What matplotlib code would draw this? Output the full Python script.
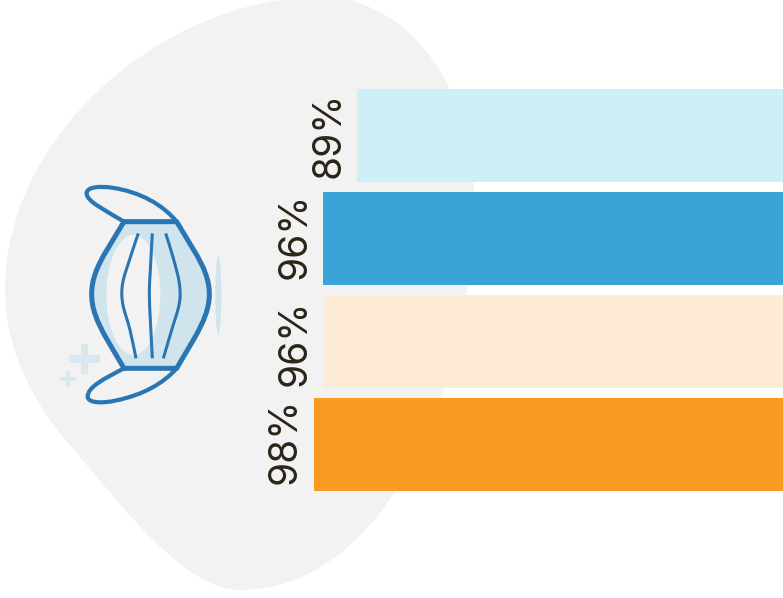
"""
Barre orizzontali con etichette ruotate, macchia grigia e icona della mascherina.
"""
import numpy as np
import matplotlib.pyplot as plt
from matplotlib.patches import Ellipse, PathPatch, Rectangle
from matplotlib.path import Path
from matplotlib.transforms import Affine2D

plt.rcParams['font.family'] = ['Inter', 'DejaVu Sans']

# Dati
values = [89, 96, 96, 98]
labels = ['89%', '96%', '96%', '98%']
colors = ['#cfeff6', '#3ba4d6', '#fdebd6', '#fb9a20']

W, H = 783, 598


def smooth_path(pts):
    # Catmull-Rom aperta convertita in bezier
    pts = np.array(pts, dtype=float)
    n = len(pts)
    verts = [pts[0]]
    codes = [Path.MOVETO]
    for i in range(n - 1):
        p0, p1, p2, p3 = pts[max(i - 1, 0)], pts[i], pts[i + 1], pts[min(i + 2, n - 1)]
        verts += [p1 + (p2 - p0) / 6, p2 - (p3 - p1) / 6, p2]
        codes += [Path.CURVE4] * 3
    return Path(verts, codes)


fig = plt.figure(figsize=(W / 100, H / 100), dpi=100, facecolor='white')

# Sfondo decorativo in coordinate pixel
deco = fig.add_axes([0, 0, 1, 1], zorder=1)
deco.set_xlim(0, W)
deco.set_ylim(H, 0)
deco.axis('off')

blob = Path([(5, 290), (5, 130), (170, -3), (320, -3),
             (410, -3), (474, 90), (474, 200),
             (474, 385), (385, 590), (240, 590),
             (185, 590), (125, 510), (70, 445),
             (30, 400), (5, 345), (5, 290)],
            [Path.MOVETO] + [Path.CURVE4] * 15)
deco.add_patch(PathPatch(blob, fc='#f2f2f2', ec='none'))

# Icona: coordinate riferite a un riquadro ingrandito 3x
icon = Affine2D().scale(1 / 3).translate(50, 170) + deco.transData
BLUE = '#2a76b2'
PALE = '#d0e4ee'
PLUS = '#d9e8ef'

body_path = Path([(222, 155), (380, 155), (430, 238), (462, 290), (478, 330), (478, 372),
                  (478, 415), (462, 455), (430, 510), (380, 595), (222, 595), (172, 510),
                  (140, 455), (125, 415), (125, 372), (125, 330), (140, 290), (172, 238), (222, 155)],
                 [Path.MOVETO, Path.LINETO, Path.LINETO, Path.CURVE4, Path.CURVE4, Path.CURVE4,
                  Path.CURVE4, Path.CURVE4, Path.CURVE4, Path.LINETO, Path.LINETO, Path.LINETO,
                  Path.CURVE4, Path.CURVE4, Path.CURVE4, Path.CURVE4, Path.CURVE4, Path.CURVE4,
                  Path.CLOSEPOLY])
deco.add_patch(PathPatch(body_path, fc=PALE, ec='none', transform=icon))
deco.add_patch(Ellipse((250, 375), 162, 360, fc='#f2f2f2', ec='none', transform=icon))
deco.add_patch(PathPatch(body_path, fc='none', ec=BLUE, lw=3.6, joinstyle='round', transform=icon))

ear_top = Path([(222, 155), (165, 120), (110, 95), (110, 70),
                (110, 50), (150, 48), (185, 53),
                (270, 65), (340, 105), (380, 155)],
               [Path.MOVETO] + [Path.CURVE4] * 9)
ear_bottom = Path([(222, 595), (165, 625), (113, 650), (113, 680),
                   (113, 700), (160, 700), (195, 692),
                   (280, 675), (340, 640), (380, 595)],
                  [Path.MOVETO] + [Path.CURVE4] * 9)
for ear in (ear_top, ear_bottom):
    deco.add_patch(PathPatch(ear, fc='none', ec=BLUE, lw=3.0, transform=icon))

pleats = [
    [(265, 190), (240, 265), (218, 340), (218, 400), (240, 480), (258, 565)],
    [(307, 190), (301, 300), (298, 370), (301, 450), (307, 565)],
    [(347, 190), (370, 265), (388, 340), (388, 400), (365, 480), (340, 565)],
]
for pleat in pleats:
    deco.add_patch(PathPatch(smooth_path(pleat), fc='none', ec=BLUE, lw=2.2, transform=icon))

deco.add_patch(Ellipse((505, 375), 18, 236, fc=PALE, ec='none', transform=icon))
for x, y, w, h in [(57, 556, 92, 22), (92, 522, 22, 90), (30, 620, 47, 12), (47, 603, 12, 47)]:
    deco.add_patch(Rectangle((x, y), w, h, fc=PLUS, ec='none', transform=icon))

# Grafico: lo zero cade appena fuori dal bordo destro
ax = fig.add_axes([0, 0, 1, 1], zorder=2)
ax.patch.set_alpha(0)
px_per_unit = 4.86
zero_px = 790
ax.set_xlim(zero_px / px_per_unit, (zero_px - W) / px_per_unit)
step = 103
first_center = 135.5
ax.set_ylim((H - first_center) / step, -first_center / step)
ax.axis('off')

y = np.arange(len(values))
ax.barh(y, values, height=93 / 103, color=colors, linewidth=0)

# Piccoli scarti verticali delle etichette
label_shift = [-0.5, -3, 1.5, -4]
for i, (v, lab) in enumerate(zip(values, labels)):
    ax.annotate(lab, (v, i), xytext=(-10, -label_shift[i]), textcoords='offset pixels',
                rotation=90, ha='right', va='center', fontsize=28, fontweight='normal', color='#2b2518')

fig.savefig('out.png', dpi=100)
